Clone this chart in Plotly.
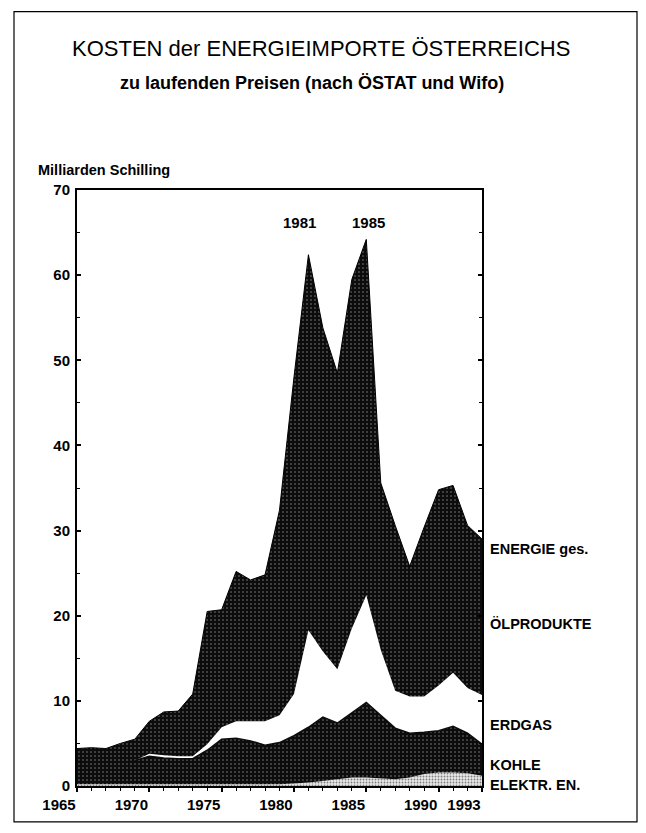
import plotly.graph_objects as go

# Kosten der Energieimporte Österreichs, Mrd. Schilling
years = list(range(1965, 1994))
elektr = [0.2, 0.2, 0.2, 0.2, 0.2, 0.2, 0.2, 0.2, 0.2, 0.2,
          0.2, 0.2, 0.2, 0.2, 0.2, 0.3, 0.4, 0.6, 0.8, 1.0,
          1.0, 0.9, 0.8, 1.0, 1.4, 1.6, 1.6, 1.5, 1.2]
kohle = [2.8, 2.7, 2.6, 2.7, 2.8, 3.3, 3.1, 3.0, 3.0, 4.0,
         5.3, 5.4, 5.1, 4.6, 4.9, 5.6, 6.5, 7.5, 6.6, 7.6,
         8.8, 7.4, 6.0, 5.2, 4.9, 4.9, 5.4, 4.7, 3.7]
erdgas = [0.0, 0.0, 0.0, 0.0, 0.0, 0.3, 0.3, 0.3, 0.3, 0.7,
          1.4, 2.0, 2.3, 2.8, 3.2, 4.9, 11.4, 7.7, 6.3, 9.9,
          12.6, 7.7, 4.4, 4.3, 4.2, 5.3, 6.3, 5.3, 5.8]
oel = [1.4, 1.6, 1.6, 2.1, 2.5, 3.8, 5.1, 5.3, 7.3, 15.6,
       13.8, 17.6, 16.6, 17.2, 24.1, 37.2, 44.1, 38.0, 34.8, 41.0,
       41.8, 19.6, 19.4, 15.3, 19.9, 23.0, 22.0, 19.1, 18.3]

x_tick_years = [1965, 1970, 1975, 1980, 1985, 1990, 1993]
y_tick_values = [0, 10, 20, 30, 40, 50, 60, 70]
peak_years = ["1981", "1985"]
series_names = ["ENERGIE ges.", "ÖLPRODUKTE", "ERDGAS", "KOHLE", "ELEKTR. EN."]

FONT = "Liberation Sans, Arial, sans-serif"
OFF = 8  # page body margin of the browser
W, H = 630, 817
L, R, T, B = 77 - OFF, 482 - OFF, 190 - OFF, 788 - OFF


def px_x(p):
    # page pixel -> paper x
    return (p - OFF - L) / (R - L)


def px_y(p):
    # page pixel -> paper y
    return (B - (p - OFF)) / (B - T)


dark = dict(shape=".", fgcolor="#ffffff", bgcolor="#0c0c0c", size=4, solidity=0.12)
light = dict(shape=".", fgcolor="#111111", bgcolor="#e8e8e8", size=3, solidity=0.3)

fig = go.Figure()

fig.add_trace(go.Scatter(
    x=years, y=elektr, stackgroup="e", mode="lines",
    line=dict(color="#555555", width=0),
    fillcolor="#e8e8e8", fillpattern=light, name="ELEKTR. EN."
))
fig.add_trace(go.Scatter(
    x=years, y=kohle, stackgroup="e", mode="lines",
    line=dict(color="#0c0c0c", width=1.5),
    fillcolor="#0c0c0c", fillpattern=dark, name="KOHLE"
))
fig.add_trace(go.Scatter(
    x=years, y=erdgas, stackgroup="e", mode="lines",
    line=dict(color="#ffffff", width=0),
    fillcolor="#ffffff", name="ERDGAS"
))
fig.add_trace(go.Scatter(
    x=years, y=oel, stackgroup="e", mode="lines",
    line=dict(color="#000000", width=1),
    fillcolor="#0c0c0c", fillpattern=dark, name="ÖLPRODUKTE"
))

# outer frame
fig.add_shape(type="rect", xref="paper", yref="paper",
              x0=px_x(14), x1=px_x(637), y0=px_y(824), y1=px_y(11),
              line=dict(color="#000000", width=1.2), layer="below")

annotations = [
    dict(text="KOSTEN der ENERGIEIMPORTE ÖSTERREICHS", x=px_x(321), y=px_y(48),
         font=dict(size=22, family=FONT, color="#000")),
    dict(text="zu laufenden Preisen (nach ÖSTAT und Wifo)", x=px_x(312), y=px_y(83),
         font=dict(size=18, family=FONT, color="#000", weight="bold")),
    dict(text="Milliarden Schilling", x=px_x(36), y=px_y(170), xanchor="left",
         font=dict(size=14.5, family=FONT, color="#000", weight="bold")),
]
for a in annotations:
    a.update(xref="paper", yref="paper", showarrow=False, yanchor="middle")
    a.setdefault("xanchor", "center")

peak_x = [px_x(299), px_x(368)]
for txt, xp in zip(peak_years, peak_x):
    annotations.append(dict(text=txt, xref="paper", yref="paper", x=xp, y=px_y(223),
                            xanchor="center", yanchor="middle", showarrow=False,
                            font=dict(size=15, family=FONT, weight="bold", color="#000")))

label_y = [550, 625, 727, 767, 787]
for txt, yp in zip(series_names, label_y):
    annotations.append(dict(text=txt, xref="paper", yref="paper", x=px_x(488), y=px_y(yp),
                            xanchor="left", yanchor="middle", showarrow=False,
                            font=dict(size=14.5, family=FONT, weight="bold", color="#000")))

fig.update_layout(
    width=W, height=H,
    margin=dict(l=L, r=W - R, t=T, b=H - B),
    paper_bgcolor="white", plot_bgcolor="white",
    showlegend=False,
    annotations=annotations,
    font=dict(family=FONT, color="#000"),
)

fig.update_xaxes(
    range=[1965, 1993], tickvals=x_tick_years, ticktext=[str(v) for v in x_tick_years],
    showgrid=False, zeroline=False,
    showline=True, linecolor="#000", linewidth=2, mirror=True,
    ticks="outside", ticklen=4, tickwidth=1.5, tickcolor="#000",
    ticklabelshift=-18, ticklabelstandoff=0,
    tickfont=dict(size=15, family=FONT, weight="bold", color="#000"),
    minor=dict(dtick=1, tick0=1965, ticks="outside", ticklen=3, tickcolor="#000", tickwidth=1.2),
)
fig.update_yaxes(
    range=[0, 70], tickvals=y_tick_values,
    showgrid=False, zeroline=False,
    showline=True, linecolor="#000", linewidth=2, mirror="ticks",
    ticks="inside", ticklen=4, tickwidth=1.5, tickcolor="#000",
    ticklabelstandoff=2,
    tickfont=dict(size=15, family=FONT, weight="bold", color="#000"),
    minor=dict(dtick=5, ticks="inside", ticklen=3, tickcolor="#000", tickwidth=1.2),
)

fig.write_html("out.html")
